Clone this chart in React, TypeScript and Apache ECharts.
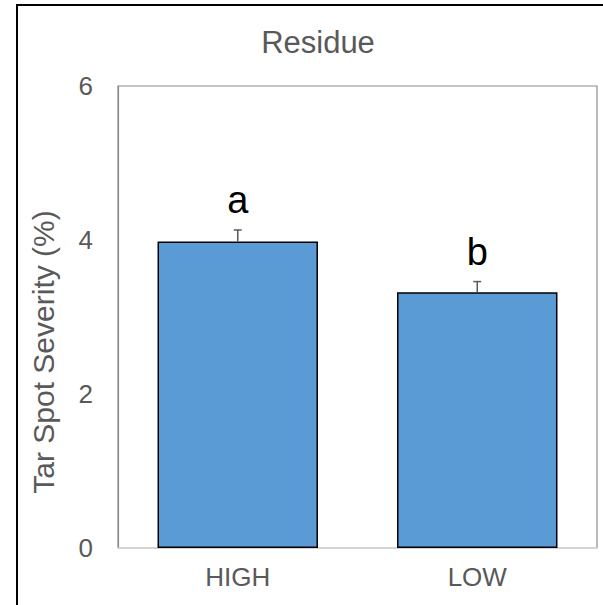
import React, { useEffect, useRef } from "react";
import * as echarts from "echarts";

const categories = ["HIGH", "LOW"];
const severity = [3.98, 3.32];
const stdErr = [0.15, 0.14];
const letters = ["a", "b"];
const yTicks = [0, 2, 4, 6];
const titleText = "Residue";
const yName = "Tar Spot Severity (%)";

const FONT = "'Liberation Sans', Arial, sans-serif";

export default function App() {
  const ref = useRef<HTMLDivElement>(null);
  useEffect(() => {
    document.body.style.margin = "0";
    if (!ref.current) return;
    const chart = echarts.init(ref.current, undefined, { renderer: "svg" });
    chart.setOption({
      animation: false,
      backgroundColor: "#ffffff",
      textStyle: { fontFamily: FONT },
      grid: {
        left: 118,
        top: 86,
        right: 6,
        bottom: 57,
        show: true,
        borderColor: "#8c8c8c",
        borderWidth: 1.2,
        backgroundColor: "transparent",
      },
      xAxis: {
        type: "category",
        data: categories,
        axisLine: { show: true, lineStyle: { color: "#d9d9d9", width: 1.5 } },
        axisTick: { show: false },
        axisLabel: { color: "#595959", fontSize: 26, margin: 16, fontFamily: FONT },
      },
      yAxis: {
        type: "value",
        min: yTicks[0],
        max: yTicks[yTicks.length - 1],
        interval: 2,
        axisLine: { show: true, lineStyle: { color: "#8c8c8c", width: 1.2 } },
        axisTick: { show: false },
        splitLine: { show: false },
        axisLabel: { color: "#595959", fontSize: 26, margin: 25, fontFamily: FONT },
      },
      graphic: [
        {
          type: "rect",
          shape: { x: 17, y: 5, width: 800, height: 800 },
          style: { fill: "none", stroke: "#000000", lineWidth: 2 },
          silent: true,
        },
        {
          type: "text",
          x: 318,
          y: 42,
          style: {
            text: titleText,
            fontSize: 31,
            fontFamily: FONT,
            fill: "#595959",
            textAlign: "center",
            textVerticalAlign: "middle",
          },
        },
        {
          type: "text",
          x: 43,
          y: 352,
          rotation: Math.PI / 2,
          style: {
            text: yName,
            fontSize: 30,
            fontFamily: FONT,
            fill: "#595959",
            textAlign: "center",
            textVerticalAlign: "middle",
          },
        },
      ],
      series: [
        {
          type: "bar",
          data: severity,
          barCategoryGap: "33%",
          itemStyle: { color: "#5b9bd5", borderColor: "#000000", borderWidth: 1.5 },
          z: 2,
        },
        {
          type: "custom",
          z: 3,
          data: severity.map((v, i) => [i, v, stdErr[i]]),
          renderItem: (params: any, api: any) => {
            const i = api.value(0);
            const v = api.value(1);
            const e = api.value(2);
            const top = api.coord([i, v + e]);
            const bot = api.coord([i, v]);
            const x = top[0];
            const cap = 4;
            return {
              type: "group",
              children: [
                {
                  type: "line",
                  shape: { x1: x, y1: top[1], x2: x, y2: bot[1] },
                  style: { stroke: "#595959", lineWidth: 1.5 },
                },
                {
                  type: "line",
                  shape: { x1: x - cap, y1: top[1], x2: x + cap, y2: top[1] },
                  style: { stroke: "#595959", lineWidth: 1.5 },
                },
                {
                  type: "text",
                  x: x,
                  y: top[1] - 11,
                  style: {
                    text: letters[params.dataIndex],
                    fontSize: 38,
                    fontFamily: FONT,
                    fill: "#000000",
                    textAlign: "center",
                    textVerticalAlign: "bottom",
                  },
                },
              ],
            };
          },
        },
      ],
    });
    return () => chart.dispose();
  }, []);
  return <div ref={ref} style={{ width: 603, height: 605 }} />;
}
